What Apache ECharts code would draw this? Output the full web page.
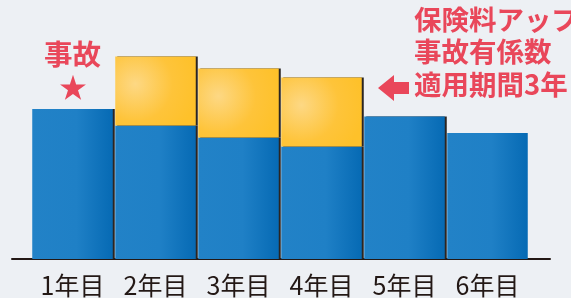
<!DOCTYPE html>
<html><head><meta charset="utf-8">
<script src="https://cdn.jsdelivr.net/npm/echarts@6/dist/echarts.min.js"></script>
<style>html,body{margin:0;padding:0;background:#edf0f4;}#c{width:571px;height:298px;}</style>
</head><body><div id="c"></div>
<script>
const categories = ['1年目','2年目','3年目','4年目','5年目','6年目'];
const baseValues = [100, 89, 81, 75, 95, 84];
const upValues = [0, 46, 46, 46, 0, 0];
const accidentLabel = '事故';
const noteLines = ['保険料アップ','事故有係数','適用期間3年'];

const chart = echarts.init(document.getElementById('c'), null, {renderer:'canvas'});
const blue = new echarts.graphic.LinearGradient(0,0,1,0,[
  {offset:0,color:'#2282c7'},{offset:0.55,color:'#1f80c6'},{offset:1,color:'#066ab4'}]);
const yellow = new echarts.graphic.RadialGradient(0.25,0.4,0.9,[
  {offset:0,color:'#fdd884'},{offset:0.6,color:'#fec43a'},{offset:1,color:'#fec12a'}]);
const edge = {shadowColor:'#2a2522', shadowOffsetX:2, shadowBlur:0};
function items(vals, color){
  return vals.map((v,i)=>({value:v, itemStyle: Object.assign({color}, i<vals.length-1?edge:{shadowBlur:0,shadowOffsetX:0,shadowColor:'rgba(0,0,0,0)'})}));
}
const red = '#e9475a';
chart.setOption({
  backgroundColor:'#edf0f4',
  animation:false,
  grid:[{left:31,right:42,top:9,bottom:39},{left:12,right:21,top:9,bottom:39}],
  xAxis:[
    {type:'category',data:categories,gridIndex:0,axisLine:{show:false},axisTick:{show:false},
     axisLabel:{color:'#231815',fontSize:25,fontFamily:'Noto Sans CJK JP',margin:14,interval:0}},
    {type:'value',gridIndex:1,min:0,max:1,axisLine:{show:true,lineStyle:{color:'#231815',width:2}},
     axisTick:{show:false},axisLabel:{show:false},splitLine:{show:false}}
  ],
  yAxis:[
    {type:'value',gridIndex:0,min:0,max:500/3,show:false},
    {type:'value',gridIndex:1,min:0,max:1,show:false}
  ],
  series:[
    {type:'bar',stack:'a',barWidth:'97%',data:items(baseValues,blue),z:2},
    {type:'bar',stack:'a',barWidth:'97%',data:items(upValues,yellow),z:2}
  ],
  graphic:[
    {type:'text',left:44,top:40,style:{text:accidentLabel,fill:red,font:'bold 28.5px "Noto Sans CJK JP"'}},
    {type:'text',left:59,top:73,style:{text:'★',fill:red,font:'28px "Noto Sans CJK JP"'}},
    {type:'text',left:414,top:3,style:{text:noteLines.join('\n'),fill:red,font:'bold 27.5px "Noto Sans CJK JP"',lineHeight:32.5}},
    {type:'polygon',shape:{points:[[378,88],[394,75],[394,82],[409,82],[409,94],[394,94],[394,101]]},style:{fill:red}}
  ]
});
</script></body></html>
